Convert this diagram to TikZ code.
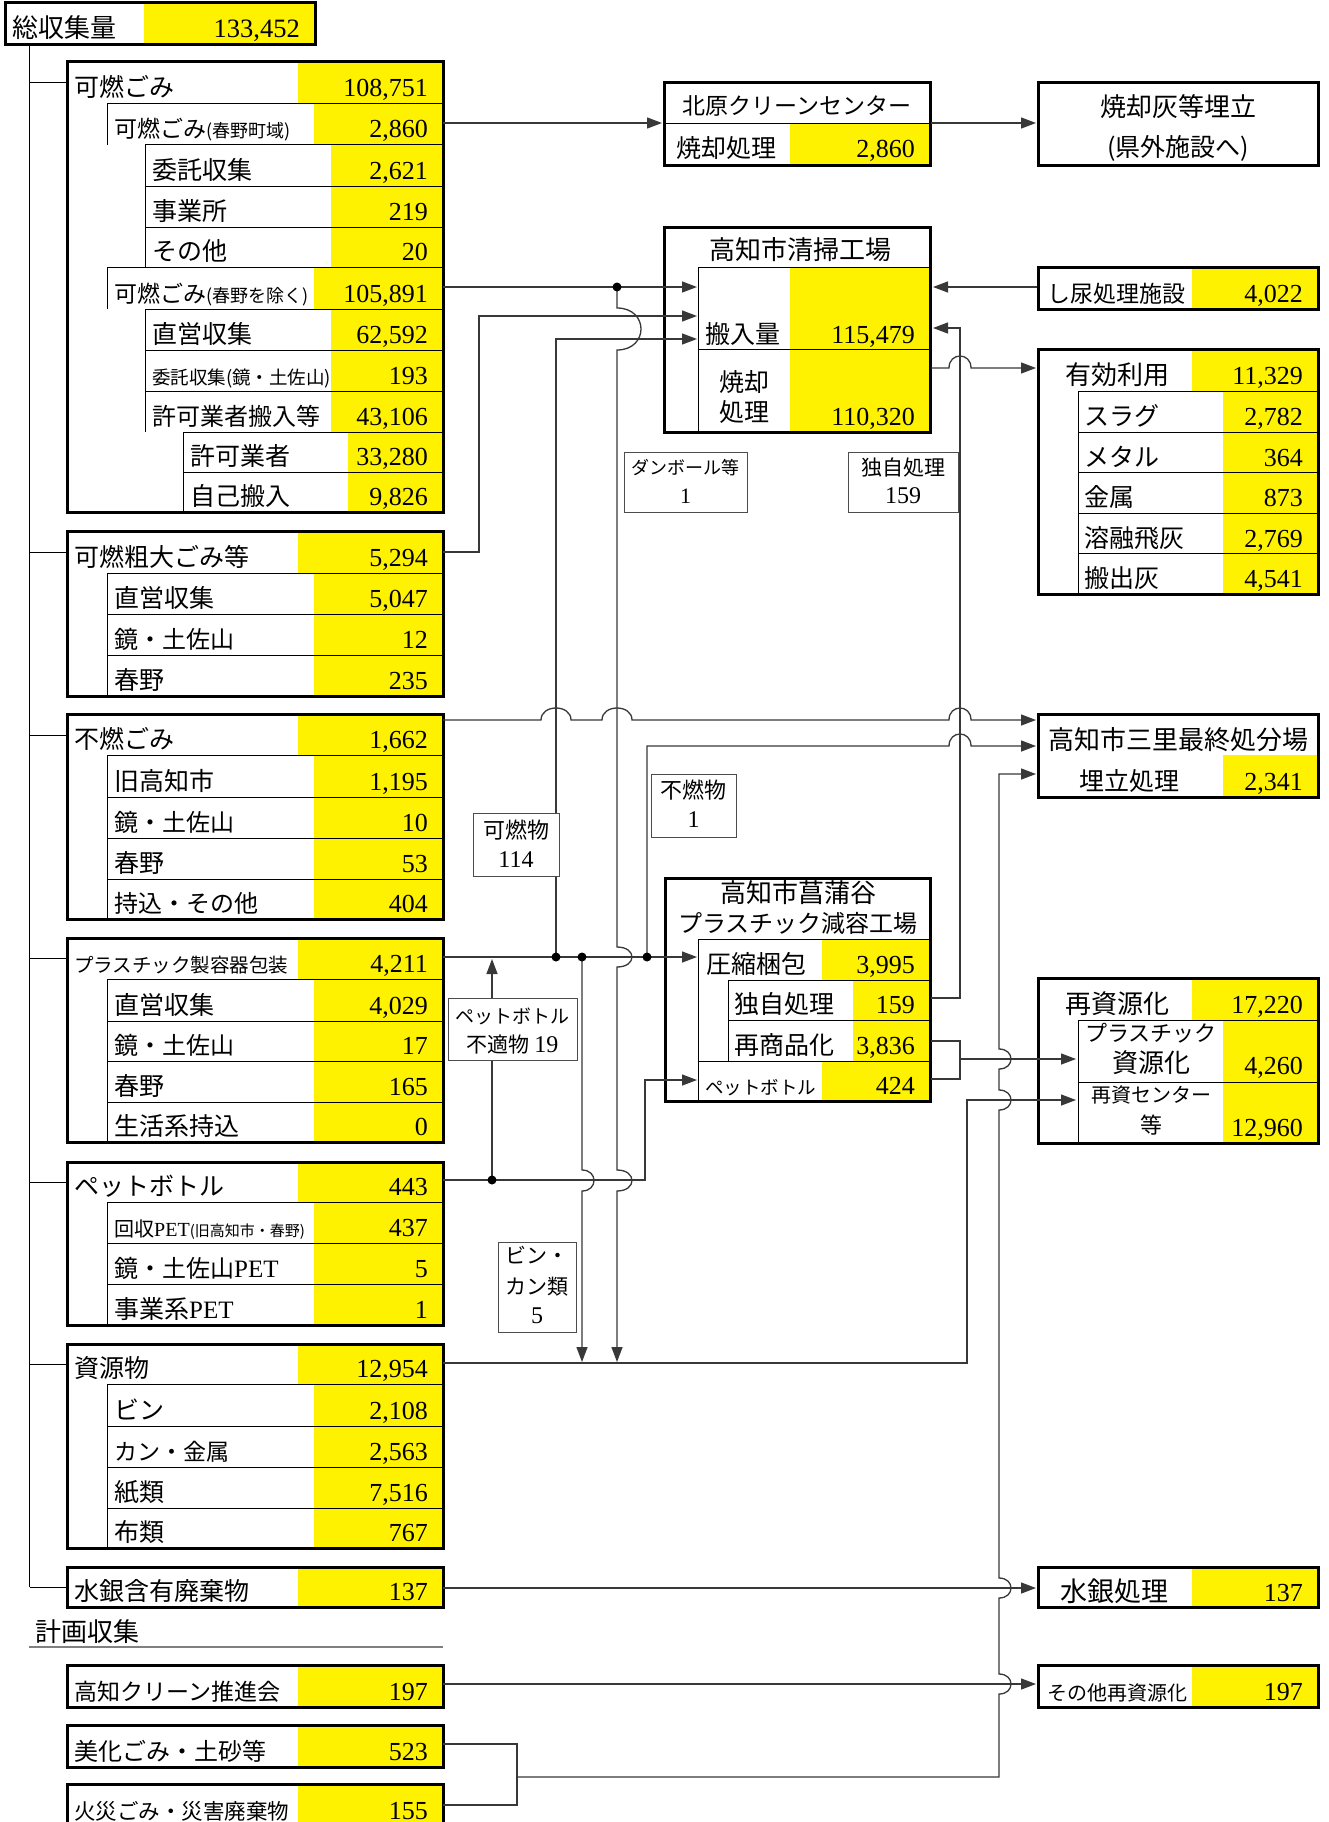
\documentclass[tikz,border=0pt]{standalone}
\usepackage{fontspec}
\setmainfont{Noto Sans CJK JP}
\newfontfamily\nmfont{Liberation Serif}
\usetikzlibrary{arrows.meta}
\newcommand{\fsz}[1]{\fontsize{#1}{#1}\selectfont}
\newcommand{\petx}{{\nmfont PET}}
\tikzset{
 lbl/.style={anchor=base west, inner sep=0pt, font=\fsz{25}},
 val/.style={anchor=base east, inner sep=0pt, font=\nmfont\fsz{26}},
 txt/.style={anchor=base, inner sep=0pt},
 tl/.style={line width=1pt, black},
 bx/.style={line width=3pt, black},
 con/.style={line width=1.3pt, black!78},
 arr/.style={con, -{Triangle[length=15pt,width=11pt]}},
 tag/.style={draw=black!70, line width=1pt, fill=white, inner sep=0pt},
 dot/.style={circle, fill=black, inner sep=0pt, minimum size=9pt},
}
% left table row: #1 xline, #2 xyellow, #3 ytop, #4 ybot, #5 label, #6 value, #7 name
\newcommand{\lrow}[7]{%
  \fill[yellow] (#2,#3) rectangle (443,#4);
  \draw[tl] (#1,#4) -- (#1,#3) -- (443,#3);
  \node[lbl] (#7l) at (#1+7,#4-7) {#5};
  \node[val] (#7v) at (428,#4-7) {#6};
}
\begin{document}
\begin{tikzpicture}[x=1pt,y=-1pt]
\useasboundingbox (0,0) rectangle (1329,1822);
\fill[white] (0,0) rectangle (1329,1822);

% ---------- total ----------
\fill[yellow] (144,3) rectangle (315,45);
\node[lbl, font=\fsz{26}] (totl) at (12,38) {総収集量};
\node[val, font=\nmfont\fsz{26.5}] (totv) at (300,38) {133,452};
\draw[bx] (5,3) rectangle (315,45);

% trunk
\draw[tl] (29.5,45) -- (29.5,1587);
\foreach \yy in {83,552,735,958,1182,1364,1587} \draw[tl] (29.5,\yy) -- (67,\yy);

% ---------- 可燃ごみ ----------
\lrow{67}{298}{62}{104}{可燃ごみ}{108,751}{ka0}
\lrow{107}{314}{104}{145}{{\fsz{23}可燃ごみ}{\fsz{18}(春野町域)}}{2,860}{ka1}
\lrow{145}{331}{145}{187}{委託収集}{2,621}{ka2}
\lrow{145}{331}{187}{227}{事業所}{219}{ka3}
\lrow{145}{331}{227}{267}{その他}{20}{ka4}
\lrow{107}{314}{267}{309}{{\fsz{23}可燃ごみ}{\fsz{18}(春野を除く)}}{105,891}{ka5}
\lrow{145}{331}{309}{350}{直営収集}{62,592}{ka6}
\lrow{145}{331}{350}{391}{{\fsz{18.5}委託収集(鏡・土佐山)}}{193}{ka7}
\lrow{145}{331}{391}{432}{{\fsz{24}許可業者搬入等}}{43,106}{ka8}
\lrow{183}{348}{432}{472}{許可業者}{33,280}{ka9}
\lrow{183}{348}{472}{512}{自己搬入}{9,826}{ka10}
\draw[bx] (67,62) rectangle (443,512);

% ---------- 可燃粗大ごみ等 ----------
\lrow{67}{298}{531}{573}{可燃粗大ごみ等}{5,294}{sd0}
\lrow{107}{314}{573}{614}{直営収集}{5,047}{sd1}
\lrow{107}{314}{614}{655}{{\fsz{24}鏡・土佐山}}{12}{sd2}
\lrow{107}{314}{655}{696}{春野}{235}{sd3}
\draw[bx] (67,531) rectangle (443,696);

% ---------- 不燃ごみ ----------
\lrow{67}{298}{714}{755}{不燃ごみ}{1,662}{fn0}
\lrow{107}{314}{755}{797}{旧高知市}{1,195}{fn1}
\lrow{107}{314}{797}{838}{{\fsz{24}鏡・土佐山}}{10}{fn2}
\lrow{107}{314}{838}{879}{春野}{53}{fn3}
\lrow{107}{314}{879}{919}{{\fsz{24}持込・その他}}{404}{fn4}
\draw[bx] (67,714) rectangle (443,919);

% ---------- プラスチック ----------
\lrow{67}{298}{938}{979}{{\fsz{19.5}プラスチック製容器包装}}{4,211}{pl0}
\lrow{107}{314}{979}{1021}{直営収集}{4,029}{pl1}
\lrow{107}{314}{1021}{1061}{{\fsz{24}鏡・土佐山}}{17}{pl2}
\lrow{107}{314}{1061}{1102}{春野}{165}{pl3}
\lrow{107}{314}{1102}{1142}{生活系持込}{0}{pl4}
\draw[bx] (67,938) rectangle (443,1142);

% ---------- ペットボトル ----------
\lrow{67}{298}{1162}{1202}{ペットボトル}{443}{pt0}
\lrow{107}{314}{1202}{1243}{{\fsz{20}回収{\nmfont PET}}{\fsz{15}(旧高知市・春野)}}{437}{pt1}
\lrow{107}{314}{1243}{1284}{{\fsz{24}鏡・土佐山}\petx}{5}{pt2}
\lrow{107}{314}{1284}{1325}{事業系\petx}{1}{pt3}
\draw[bx] (67,1162) rectangle (443,1325);

% ---------- 資源物 ----------
\lrow{67}{298}{1344}{1384}{資源物}{12,954}{sg0}
\lrow{107}{314}{1384}{1426}{ビン}{2,108}{sg1}
\lrow{107}{314}{1426}{1467}{{\fsz{23}カン・金属}}{2,563}{sg2}
\lrow{107}{314}{1467}{1508}{紙類}{7,516}{sg3}
\lrow{107}{314}{1508}{1548}{布類}{767}{sg4}
\draw[bx] (67,1344) rectangle (443,1548);

% ---------- single rows ----------
\lrow{67}{298}{1567}{1607}{水銀含有廃棄物}{137}{sk0}
\draw[bx] (67,1567) rectangle (443,1607);
\node[lbl, font=\fsz{26}] (keikaku) at (35,1641) {計画収集};
\draw[line width=2.5pt, black!50] (29,1647) -- (443,1647);
\lrow{67}{298}{1665}{1707}{{\fsz{23}高知クリーン推進会}}{197}{kc0}
\draw[bx] (67,1665) rectangle (443,1707);
\lrow{67}{298}{1725}{1767}{{\fsz{24}美化ごみ・土砂等}}{523}{bk0}
\draw[bx] (67,1725) rectangle (443,1767);
\lrow{67}{298}{1784}{1826}{{\fsz{21.5}火災ごみ・災害廃棄物}}{155}{ks0}
\draw[bx] (67,1784) rectangle (443,1826);

% ---------- 北原クリーンセンター ----------
\fill[yellow] (790,124) rectangle (930,166);
\draw[tl] (664,124) -- (930,124);
\node[txt, font=\fsz{23}] (kitah) at (797,115) {北原クリーンセンター};
\node[lbl] (kital) at (676,158) {焼却処理};
\node[val] (kitav) at (915,158) {2,860};
\draw[bx] (664,83) rectangle (930,166);

% ---------- 焼却灰等埋立 ----------
\node[txt, font=\fsz{26}] (ume1) at (1178,117) {焼却灰等埋立};
\node[txt, font=\fsz{25}] (ume2) at (1178,157) {(県外施設へ)};
\draw[bx] (1038,83) rectangle (1318,166);

% ---------- 高知市清掃工場 ----------
\fill[yellow] (790,267) rectangle (930,432);
\draw[tl] (698,432) -- (698,267) -- (930,267);
\draw[tl] (698,349) -- (930,349);
\node[txt, font=\fsz{26}] (seih) at (800,259) {高知市清掃工場};
\node[lbl] (seil1) at (705,343) {搬入量};
\node[val] (seiv1) at (915,343) {115,479};
\node[txt, font=\fsz{25}] (seil2) at (744,391) {焼却};
\node[txt, font=\fsz{25}] (seil3) at (744,421) {処理};
\node[val] (seiv2) at (915,425) {110,320};
\draw[bx] (664,227) rectangle (930,432);

% ---------- し尿処理施設 ----------
\fill[yellow] (1192,267) rectangle (1318,309);
\node[lbl, font=\fsz{23}] (shinl) at (1047,302) {し尿処理施設};
\node[val] (shinv) at (1303,302) {4,022};
\draw[bx] (1038,267) rectangle (1318,309);

% ---------- 有効利用 ----------
\fill[yellow] (1192,349) rectangle (1318,391);
\fill[yellow] (1223,391) rectangle (1318,594);
\draw[tl] (1078,594) -- (1078,391) -- (1318,391);
\foreach \yy in {432,472,513,553} \draw[tl] (1078,\yy) -- (1318,\yy);
\node[lbl, font=\fsz{26}] (yul0) at (1065,384) {有効利用};
\node[val] (yuv0) at (1303,384) {11,329};
\node[lbl] (yul1) at (1084,425) {スラグ};
\node[val] (yuv1) at (1303,425) {2,782};
\node[lbl] (yul2) at (1084,466) {メタル};
\node[val] (yuv2) at (1303,466) {364};
\node[lbl] (yul3) at (1084,506) {金属};
\node[val] (yuv3) at (1303,506) {873};
\node[lbl] (yul4) at (1084,547) {溶融飛灰};
\node[val] (yuv4) at (1303,547) {2,769};
\node[lbl] (yul5) at (1084,587) {搬出灰};
\node[val] (yuv5) at (1303,587) {4,541};
\draw[bx] (1038,349) rectangle (1318,594);

% ---------- 三里最終処分場 ----------
\fill[yellow] (1223,755) rectangle (1318,797);
\node[txt, font=\fsz{26}] (misah) at (1178,749) {高知市三里最終処分場};
\node[lbl] (misal) at (1079,790) {埋立処理};
\node[val] (misav) at (1303,790) {2,341};
\draw[bx] (1038,714) rectangle (1318,797);

% ---------- 菖蒲谷プラスチック減容工場 ----------
\fill[yellow] (822,939) rectangle (930,980);
\fill[yellow] (853,980) rectangle (930,1061);
\fill[yellow] (822,1061) rectangle (930,1101);
\draw[tl] (698,1101) -- (698,939) -- (930,939);
\draw[tl] (728,1061) -- (728,980) -- (930,980);
\draw[tl] (728,1020) -- (930,1020);
\draw[tl] (698,1061) -- (930,1061);
\node[txt, font=\fsz{26}] (genh1) at (798,902) {高知市菖蒲谷};
\node[txt, font=\fsz{24}] (genh2) at (798,932) {プラスチック減容工場};
\node[lbl] (genl1) at (706,973) {圧縮梱包};
\node[val] (genv1) at (915,973) {3,995};
\node[lbl] (genl2) at (734,1013) {独自処理};
\node[val] (genv2) at (915,1013) {159};
\node[lbl] (genl3) at (734,1054) {再商品化};
\node[val] (genv3) at (915,1054) {3,836};
\node[lbl, font=\fsz{18.5}] (genl4) at (705,1094) {ペットボトル};
\node[val] (genv4) at (915,1094) {424};
\draw[bx] (665,878) rectangle (930,1101);

% ---------- 再資源化 ----------
\fill[yellow] (1192,978) rectangle (1318,1020);
\fill[yellow] (1223,1020) rectangle (1318,1143);
\draw[tl] (1078,1143) -- (1078,1020) -- (1318,1020);
\draw[tl] (1078,1082) -- (1318,1082);
\node[lbl, font=\fsz{26}] (sail0) at (1065,1013) {再資源化};
\node[val] (saiv0) at (1303,1013) {17,220};
\node[txt, font=\fsz{22}] (sail1a) at (1151,1041) {プラスチック};
\node[txt, font=\fsz{26}] (sail1b) at (1151,1072) {資源化};
\node[val] (saiv1) at (1303,1074) {4,260};
\node[txt, font=\fsz{20}] (sail2a) at (1151,1102) {再資センター};
\node[txt, font=\fsz{22}] (sail2b) at (1151,1133) {等};
\node[val] (saiv2) at (1303,1136) {12,960};
\draw[bx] (1038,978) rectangle (1318,1143);

% ---------- 水銀処理 / その他再資源化 ----------
\fill[yellow] (1192,1567) rectangle (1318,1607);
\node[lbl, font=\fsz{27}] (suil) at (1060,1601) {水銀処理};
\node[val] (suiv) at (1303,1601) {137};
\draw[bx] (1038,1567) rectangle (1318,1607);
\fill[yellow] (1192,1665) rectangle (1318,1707);
\node[lbl, font=\fsz{20}] (sonl) at (1047,1700) {その他再資源化};
\node[val] (sonv) at (1303,1700) {197};
\draw[bx] (1038,1665) rectangle (1318,1707);

% ---------- ports ----------
\coordinate (oKa1) at (443,123);
\coordinate (iKita) at (662,123);
\coordinate (oKita) at (931,123);
\coordinate (iUme) at (1036,123);
\coordinate (oKa5) at (443,287);
\coordinate (iSeiA) at (697,287);
\coordinate (oSodai) at (443,552);
\coordinate (oShin) at (1037,287);
\coordinate (iSeiR1) at (933,287);
\coordinate (iSeiR2) at (933,328);
\coordinate (oSeiYu) at (931,368);
\coordinate (iYu) at (1036,368);
\coordinate (oFunen) at (443,720);
\coordinate (iMisa1) at (1036,720);
\coordinate (iMisa2) at (1036,746);
\coordinate (iMisa3) at (1036,774);
\coordinate (oPla) at (443,957);
\coordinate (iGen1) at (697,957);
\coordinate (oPet) at (443,1180);
\coordinate (iGen2) at (697,1080);
\coordinate (oGenDoku) at (931,998);
\coordinate (oGenSai) at (931,1041);
\coordinate (oGenPet) at (931,1079);
\coordinate (iSai1) at (1076,1059);
\coordinate (iSai2) at (1076,1100);
\coordinate (oShigen) at (443,1363);
\coordinate (oSuigin) at (443,1588);
\coordinate (iSuigin) at (1036,1588);
\coordinate (oClean) at (443,1684);
\coordinate (iSonota) at (1036,1684);
\coordinate (oBika) at (443,1744);
\coordinate (oKasai) at (443,1805);
\coordinate (jBika) at (517,1777);
\coordinate (dA) at (617,287);
\coordinate (dB) at (556,957);
\coordinate (dC) at (582,957);
\coordinate (dD) at (647,957);
\coordinate (dE) at (492,1180);

% ---------- connectors ----------
\draw[arr] (oKa1) -- (iKita);
\draw[arr] (oKita) -- (iUme);
\draw[arr] (oKa5) -- (iSeiA);
\draw[arr] (dA) -- (617,308) .. controls (649,308) and (649,350) .. (617,350)
  -- (617,947) .. controls (637,947) and (637,967) .. (617,967)
  -- (617,1170) .. controls (637,1170) and (637,1191) .. (617,1191) -- (617,1362);
\draw[arr] (oSodai) -- (479,552) -- (479,316) -- (697,316);
\draw[arr] (dB) -- (556,339) -- (697,339);
\draw[arr] (oShin) -- (iSeiR1);
\draw[arr] (oGenDoku) -- (960,998) -- (960,328) -- (iSeiR2);
\draw[arr] (oSeiYu) -- (949,368) .. controls (949,352) and (971,352) .. (971,368) -- (iYu);
\draw[arr] (oFunen) -- (541,720) .. controls (541,704) and (571,704) .. (571,720)
  -- (602,720) .. controls (602,704) and (632,704) .. (632,720)
  -- (949,720) .. controls (949,704) and (971,704) .. (971,720) -- (iMisa1);
\draw[arr] (dD) -- (647,746) -- (949,746) .. controls (949,730) and (971,730) .. (971,746) -- (iMisa2);
\draw[con] (oBika) -- (517,1744) -- (517,1805) -- (oKasai);
\draw[arr] (jBika) -- (999,1777) -- (999,1694) .. controls (1015,1694) and (1015,1674) .. (999,1674)
  -- (999,1598) .. controls (1015,1598) and (1015,1578) .. (999,1578)
  -- (999,1110) .. controls (1015,1110) and (1015,1090) .. (999,1090)
  -- (999,1069) .. controls (1015,1069) and (1015,1049) .. (999,1049)
  -- (999,774) -- (iMisa3);
\draw[arr] (oPla) -- (iGen1);
\draw[arr] (dE) -- (492,959);
\draw[arr] (dC) -- (582,1170) .. controls (598,1170) and (598,1191) .. (582,1191) -- (582,1362);
\draw[arr] (oPet) -- (645,1180) -- (645,1080) -- (iGen2);
\draw[arr] (oShigen) -- (967,1363) -- (967,1100) -- (iSai2);
\draw[con] (oGenSai) -- (960,1041) -- (960,1079) -- (oGenPet);
\draw[arr] (960,1059) -- (iSai1);
\draw[arr] (oSuigin) -- (iSuigin);
\draw[arr] (oClean) -- (iSonota);

% ---------- tags ----------
\node[tag, minimum width=123pt, minimum height=60pt] (tDan) at (685.5,482) {};
\node[txt, font=\fsz{18}] (tDan1) at (685.5,474) {ダンボール等};
\node[txt, font=\nmfont\fsz{22}] (tDan2) at (685.5,503) {1};
\node[tag, minimum width=110pt, minimum height=60pt] (tDoku) at (903,482) {};
\node[txt, font=\fsz{21}] (tDoku1) at (903,475) {独自処理};
\node[txt, font=\nmfont\fsz{24}] (tDoku2) at (903,503) {159};
\node[tag, minimum width=86pt, minimum height=63pt] (tKa) at (516,844.5) {};
\node[txt, font=\fsz{22}] (tKa1) at (516,838) {可燃物};
\node[txt, font=\nmfont\fsz{24}] (tKa2) at (516,867) {114};
\node[tag, minimum width=85pt, minimum height=63pt] (tFu) at (693.5,805.5) {};
\node[txt, font=\fsz{22}] (tFu1) at (693.5,798) {不燃物};
\node[txt, font=\nmfont\fsz{24}] (tFu2) at (693.5,827) {1};
\node[tag, minimum width=129pt, minimum height=62pt] (tPf) at (512.5,1029) {};
\node[txt, font=\fsz{19}] (tPf1) at (512.5,1023) {ペットボトル};
\node[txt, font=\fsz{21}] (tPf2) at (512.5,1052) {不適物 {\nmfont\fsz{24}19}};
\node[tag, minimum width=78pt, minimum height=90pt] (tBin) at (537,1287) {};
\node[txt, font=\fsz{21}] (tBin1) at (537,1263) {ビン・};
\node[txt, font=\fsz{21}] (tBin2) at (537,1294) {カン類};
\node[txt, font=\nmfont\fsz{24}] (tBin3) at (537,1323) {5};

% ---------- dots ----------
\foreach \dd in {dA,dB,dC,dD,dE} \node[dot] at (\dd) {};
\end{tikzpicture}
\end{document}
